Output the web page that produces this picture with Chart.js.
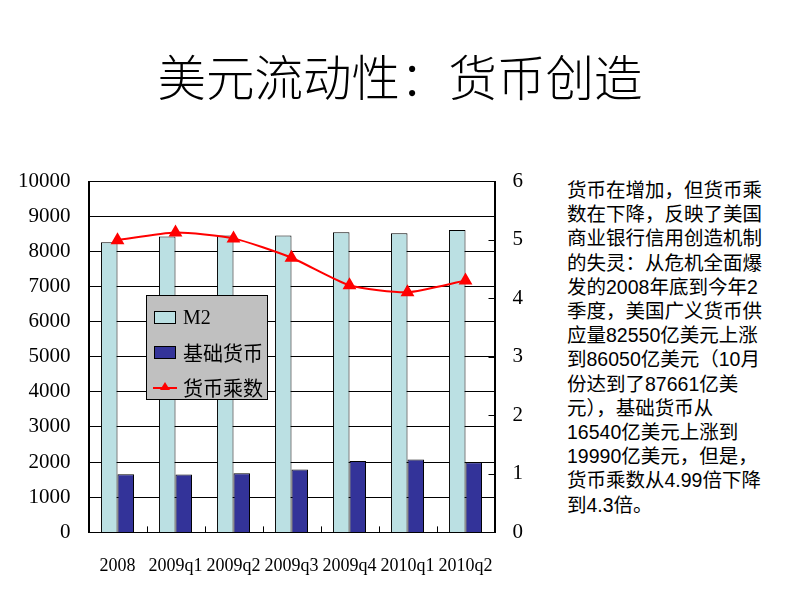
<!DOCTYPE html>
<html>
<head>
<meta charset="utf-8">
<script src="https://cdn.jsdelivr.net/npm/chart.js@4.4.0/dist/chart.umd.min.js"></script>
<style>
    html, body { margin: 0; padding: 0; background: #ffffff; }
    #page { position: relative; width: 800px; height: 600px; overflow: hidden; }
    #title {
        position: absolute; left: 0; top: 44px; width: 800px; text-align: center;
        font-family: "Noto Sans CJK SC", sans-serif; font-weight: 300;
        font-size: 48.5px; line-height: 62px; color: #000;
    }
    #chartBox { position: absolute; left: 0; top: 0; width: 560px; height: 600px; }
    #note {
        position: absolute; left: 567px; top: 178px; width: 230px;
        font-family: "Liberation Sans", "Noto Sans CJK SC", sans-serif;
        font-size: 19.5px; line-height: 24.2px; color: #000;
    }
    #legend {
        position: absolute; left: 146px; top: 295px; width: 120px; height: 103px;
        background: #c0c0c0; border: 1px solid #000;
    }
    .legend-item {
        position: absolute; left: 6px; height: 30px; display: flex; align-items: center;
        font-family: "Liberation Serif", "Noto Sans CJK SC", serif; font-size: 20px; color: #000;
    }
    .legend-item canvas { margin-right: 6px; }
</style>
</head>
<body>
<div id="page">
    <div id="title">美元流动性：货币创造</div>
    <div id="chartBox"><canvas id="moneyChart"></canvas></div>
    <div id="legend"></div>
    <div id="note">货币在增加，但货币乘<br>数在下降，反映了美国<br>商业银行信用创造机制<br>的失灵：从危机全面爆<br>发的2008年底到今年2<br>季度，美国广义货币供<br>应量82550亿美元上涨<br>到86050亿美元（10月<br>份达到了87661亿美<br>元），基础货币从<br>16540亿美元上涨到<br>19990亿美元，但是，<br>货币乘数从4.99倍下降<br>到4.3倍。</div>
</div>
<script>
// chart values
const categories = ['2008', '2009q1', '2009q2', '2009q3', '2009q4', '2010q1', '2010q2'];
const m2Values = [8255, 8420, 8450, 8450, 8540, 8515, 8605];
const baseMoneyValues = [1654, 1650, 1680, 1790, 2030, 2075, 1999];
const multiplierValues = [4.99, 5.12, 5.02, 4.69, 4.22, 4.10, 4.30];
const leftTicks = [0, 1000, 2000, 3000, 4000, 5000, 6000, 7000, 8000, 9000, 10000];
const rightTicks = [0, 1, 2, 3, 4, 5, 6];

const seriesNames = ['M2', '基础货币', '货币乘数'];

// plot frame plus the small inward tick marks of the old excel chart
const frameTicks = {
    id: 'frameTicks',
    afterDatasetsDraw(chart) {
        const ctx = chart.ctx;
        const area = chart.chartArea;
        const xScale = chart.scales.x;
        const rightScale = chart.scales.y1;
        ctx.save();
        ctx.strokeStyle = '#000000';
        ctx.lineWidth = 1;
        ctx.beginPath();
        const n = categories.length;
        for (let i = 1; i < n; i++) {
            const x = Math.round(xScale.left + i * xScale.width / n) + 0.5;
            ctx.moveTo(x, area.bottom);
            ctx.lineTo(x, area.bottom - 6);
        }
        rightTicks.forEach(v => {
            const y = Math.round(rightScale.getPixelForValue(v)) + 0.5;
            ctx.moveTo(area.right, y);
            ctx.lineTo(area.right - 6, y);
        });
        ctx.stroke();
        ctx.strokeRect(Math.round(area.left) + 0.5, Math.round(area.top) + 0.5,
            Math.round(area.width), Math.round(area.height));
        ctx.restore();
    }
};

function buildLegend(chart) {
    const box = document.getElementById('legend');
    chart.data.datasets.forEach((ds, i) => {
        const item = document.createElement('div');
        item.className = 'legend-item';
        item.style.top = (6 + i * 35) + 'px';
        const sw = document.createElement('canvas');
        sw.width = 24; sw.height = 16;
        const c = sw.getContext('2d');
        if (ds.type === 'line') {
            c.strokeStyle = ds.borderColor;
            c.lineWidth = 2;
            c.beginPath(); c.moveTo(0, 9); c.lineTo(24, 9); c.stroke();
            c.fillStyle = ds.pointBackgroundColor;
            c.beginPath(); c.moveTo(12, 3); c.lineTo(17, 11); c.lineTo(7, 11); c.closePath(); c.fill();
        } else {
            c.fillStyle = ds.backgroundColor;
            c.fillRect(1, 2, 22, 13);
            c.strokeStyle = '#000';
            c.strokeRect(1.5, 2.5, 21, 12);
        }
        item.appendChild(sw);
        const label = document.createElement('span');
        label.textContent = ds.label;
        item.appendChild(label);
        box.appendChild(item);
    });
}

document.addEventListener('DOMContentLoaded', function() {
    const tickFont = { family: "'Liberation Serif', serif", size: 21 };
    const plain = v => String(v);
    const ctx = document.getElementById('moneyChart').getContext('2d');
    const chart = new Chart(ctx, {
        data: {
            labels: categories,
            datasets: [
                {
                    type: 'bar',
                    label: seriesNames[0],
                    data: m2Values,
                    yAxisID: 'y',
                    backgroundColor: '#bbe0e3',
                    borderColor: '#000000',
                    borderWidth: 1,
                    categoryPercentage: 0.57,
                    barPercentage: 1.0,
                    order: 1
                },
                {
                    type: 'bar',
                    label: seriesNames[1],
                    data: baseMoneyValues,
                    yAxisID: 'y',
                    backgroundColor: '#333399',
                    borderColor: '#000000',
                    borderWidth: 1,
                    categoryPercentage: 0.57,
                    barPercentage: 1.0,
                    order: 1
                },
                {
                    type: 'line',
                    label: seriesNames[2],
                    data: multiplierValues,
                    yAxisID: 'y1',
                    borderColor: '#ff0000',
                    borderWidth: 2,
                    tension: 0.2,
                    pointStyle: 'triangle',
                    pointRadius: 6,
                    pointBackgroundColor: '#ff0000',
                    pointBorderColor: '#ff0000',
                    order: 0
                }
            ]
        },
        options: {
            responsive: true,
            maintainAspectRatio: false,
            animation: false,
            layout: {
                padding: { left: 0, top: 181, right: 19, bottom: 8 }
            },
            plugins: {
                legend: { display: false },
                tooltip: { enabled: false }
            },
            scales: {
                x: {
                    grid: { display: false },
                    border: { display: true, color: '#000000' },
                    ticks: { color: '#000000', font: { family: "'Liberation Serif', serif", size: 18 }, padding: 15, maxRotation: 0, autoSkip: false }
                },
                y: {
                    position: 'left',
                    min: 0,
                    max: 10000,
                    afterBuildTicks: scale => { scale.ticks = leftTicks.map(v => ({ value: v })); },
                    grid: { color: '#000000', lineWidth: 1, drawTicks: false },
                    border: { display: true, color: '#000000' },
                    ticks: { color: '#000000', font: tickFont, padding: 18, callback: plain }
                },
                y1: {
                    position: 'right',
                    min: 0,
                    max: 6,
                    afterBuildTicks: scale => { scale.ticks = rightTicks.map(v => ({ value: v })); },
                    grid: { drawOnChartArea: false, drawTicks: false },
                    border: { display: true, color: '#000000' },
                    ticks: { color: '#000000', font: tickFont, padding: 18, callback: plain }
                }
            }
        },
        plugins: [frameTicks]
    });
    buildLegend(chart);
});
</script>
</body>
</html>
